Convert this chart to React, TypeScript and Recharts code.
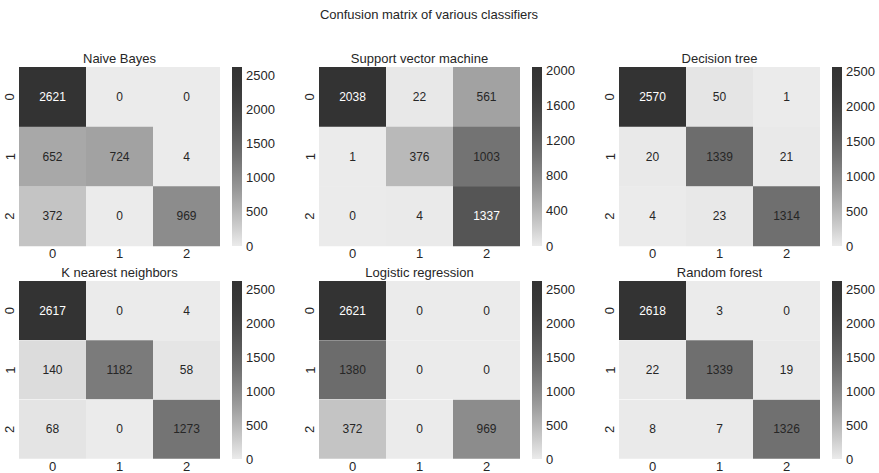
import React from "react";
import { BarChart, Bar, XAxis, YAxis, Cell, LabelList } from "recharts";

// confusion matrices, rows = true class, columns = predicted class
const naiveBayes = [
  [2621, 0, 0],
  [652, 724, 4],
  [372, 0, 969],
];
const supportVector = [
  [2038, 22, 561],
  [1, 376, 1003],
  [0, 4, 1337],
];
const decisionTree = [
  [2570, 50, 1],
  [20, 1339, 21],
  [4, 23, 1314],
];
const kNearest = [
  [2617, 0, 4],
  [140, 1182, 58],
  [68, 0, 1273],
];
const logisticRegression = [
  [2621, 0, 0],
  [1380, 0, 0],
  [372, 0, 969],
];
const randomForest = [
  [2618, 3, 0],
  [22, 1339, 19],
  [8, 7, 1326],
];

const classLabels = ["0", "1", "2"];
const titles = [
  "Naive Bayes",
  "Support vector machine",
  "Decision tree",
  "K nearest neighbors",
  "Logistic regression",
  "Random forest",
];
const ticks2500 = [0, 500, 1000, 1500, 2000, 2500];
const ticks2000 = [0, 400, 800, 1200, 1600, 2000];

const matrices = [naiveBayes, supportVector, decisionTree, kNearest, logisticRegression, randomForest];
const colorbarTicks = [ticks2500, ticks2000, ticks2500, ticks2500, ticks2500, ticks2500];

const TEXT = "#262626";
const FONT = "'Liberation Sans', Arial, sans-serif";

// grey colormap: light at 0, dark at max
const grey = (t: number) => {
  const v = Math.round(51 + 184 * Math.pow(1 - Math.min(1, Math.max(0, t)), 1.57));
  const h = v.toString(16).padStart(2, "0");
  return `#${h}${h}${h}`;
};

const RotTick = (props: any) => {
  const { x, y, payload } = props;
  const cx = x - 9;
  return (
    <text
      x={cx}
      y={y}
      transform={`rotate(-90 ${cx} ${y})`}
      textAnchor="middle"
      dominantBaseline="central"
      fontSize={13}
      fill={TEXT}
    >
      {payload.value}
    </text>
  );
};

interface PanelProps {
  idx: number;
  left: number;
  top: number;
  plotH: number;
}

const Panel: React.FC<PanelProps> = ({ idx, left, top, plotH }) => {
  const matrix = matrices[idx];
  const vmax = Math.max(...matrix.flat());
  const rows = matrix.map((r, i) => ({
    row: classLabels[i],
    c0: 1,
    c1: 1,
    c2: 1,
    n0: r[0],
    n1: r[1],
    n2: r[2],
  }));

  const cellLabel = (j: number) => (p: any) => {
    const { x, y, width, height, value, index } = p;
    const t = matrix[index][j] / vmax;
    return (
      <text
        x={x + width / 2}
        y={y + height / 2}
        textAnchor="middle"
        dominantBaseline="central"
        fontSize={12}
        fill={t > 0.6 ? "#ffffff" : TEXT}
      >
        {value}
      </text>
    );
  };

  return (
    <>
      <div
        style={{
          position: "absolute",
          left: left + 19,
          width: 201,
          top: top - 16,
          textAlign: "center",
          fontSize: 13,
          color: TEXT,
          lineHeight: "16px",
        }}
      >
        {titles[idx]}
      </div>
      <div style={{ position: "absolute", left, top }}>
        <BarChart
          layout="vertical"
          width={220}
          height={plotH + 20}
          data={rows}
          margin={{ top: 0, right: 0, bottom: 0, left: 0 }}
          barCategoryGap={0}
        >
          <XAxis
            type="number"
            domain={[0, 3]}
            ticks={[0.5, 1.5, 2.5]}
            interval={0}
            tickFormatter={(v: number) => classLabels[Math.floor(v)]}
            axisLine={false}
            tickLine={false}
            tickSize={0}
            tickMargin={3}
            height={20}
            tick={{ fontSize: 13, fill: TEXT }}
          />
          <YAxis
            type="category"
            dataKey="row"
            width={19}
            axisLine={false}
            tickLine={false}
            tickSize={0}
            tickMargin={0}
            tick={<RotTick />}
          />
          {[0, 1, 2].map((j) => (
            <Bar key={j} dataKey={`c${j}`} stackId="m" isAnimationActive={false}>
              {rows.map((_, i) => (
                <Cell key={i} fill={grey(matrix[i][j] / vmax)} />
              ))}
              <LabelList dataKey={`n${j}`} content={cellLabel(j)} />
            </Bar>
          ))}
        </BarChart>
      </div>
      <div style={{ position: "absolute", left: left + 232, top: top - 8 }}>
        <BarChart
          width={52}
          height={plotH + 16}
          data={[{ v: vmax }]}
          margin={{ top: 8, right: 0, bottom: 8, left: 0 }}
          barCategoryGap={0}
        >
          <XAxis hide />
          <YAxis
            orientation="right"
            type="number"
            domain={[0, vmax]}
            ticks={colorbarTicks[idx]}
            interval={0}
            axisLine={false}
            tickLine={false}
            tickSize={0}
            tickMargin={4}
            width={42}
            tick={{ fontSize: 13, fill: TEXT }}
          />
          <Bar dataKey="v" fill="url(#cbar)" isAnimationActive={false} />
        </BarChart>
      </div>
    </>
  );
};

const stops = [0, 0.1, 0.2, 0.3, 0.4, 0.5, 0.6, 0.7, 0.8, 0.9, 1];

export default function App() {
  return (
    <div
      style={{
        position: "relative",
        width: 879,
        height: 473,
        background: "#fff",
        fontFamily: FONT,
        overflow: "hidden",
      }}
    >
      <style>{"body{margin:0}"}</style>
      <svg width={0} height={0} style={{ position: "absolute" }}>
        <defs>
          <linearGradient id="cbar" x1="0" y1="1" x2="0" y2="0">
            {stops.map((t) => (
              <stop key={t} offset={t} stopColor={grey(t)} />
            ))}
          </linearGradient>
        </defs>
      </svg>
      <div
        style={{
          position: "absolute",
          left: 229,
          width: 400,
          top: 7,
          textAlign: "center",
          fontSize: 13,
          color: TEXT,
          lineHeight: "16px",
        }}
      >
        Confusion matrix of various classifiers
      </div>
      {matrices.map((_, idx) => {
        const col = idx % 3;
        const row = Math.floor(idx / 3);
        return (
          <Panel
            key={idx}
            idx={idx}
            left={col * 300}
            top={row === 0 ? 67 : 281}
            plotH={row === 0 ? 179 : 178}
          />
        );
      })}
    </div>
  );
}
